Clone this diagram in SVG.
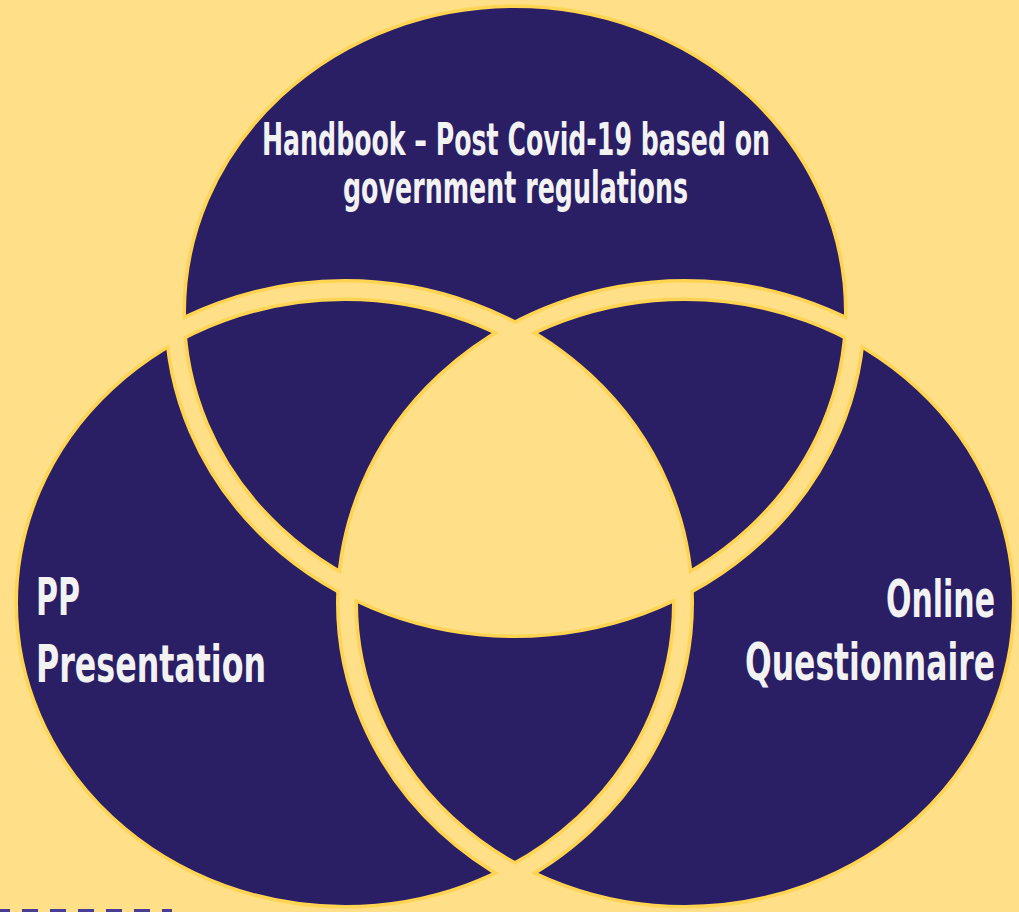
<svg xmlns="http://www.w3.org/2000/svg" xmlns:xlink="http://www.w3.org/1999/xlink" width="1019" height="912" viewBox="0 0 1019 912">
<style>
.fill{fill:#2a1e64}
.edge{fill:none;stroke:#ffd452;stroke-width:22}
.gap{fill:none;stroke:#ffdf87;stroke-width:15}
.lbl{font-family:"Liberation Sans Narrow","DejaVu Sans Condensed","Liberation Sans",sans-serif;font-weight:bold;fill:#f2f2f2}
</style>
<defs>
<ellipse id="eTop" cx="515" cy="312" rx="340" ry="315"/>
<ellipse id="eLeft" cx="345" cy="603" rx="338" ry="313"/>
<ellipse id="eRight" cx="685" cy="603" rx="338" ry="313"/>
<clipPath id="cUnion"><use href="#eTop"/><use href="#eLeft"/><use href="#eRight"/></clipPath>
<clipPath id="cL"><use href="#eLeft"/></clipPath>
<clipPath id="cR"><use href="#eRight"/></clipPath>
</defs>
<rect width="1019" height="912" fill="#ffdf87"/>
<g id="node-fills">
<use id="node-top-fill" href="#eTop" class="fill"/>
<use id="node-left-fill" href="#eLeft" class="fill"/>
<use id="node-right-fill" href="#eRight" class="fill"/>
</g>
<g id="node-edges" clip-path="url(#cUnion)">
<use href="#eTop" class="edge"/>
<use href="#eLeft" class="edge"/>
<use href="#eRight" class="edge"/>
</g>
<g id="node-center" clip-path="url(#cL)"><g clip-path="url(#cR)"><use href="#eTop" fill="#ffdf87"/></g></g>
<g id="node-gaps">
<use href="#eTop" class="gap"/>
<use href="#eLeft" class="gap"/>
<use href="#eRight" class="gap"/>
</g>
<g id="connectors"></g>
<g id="node-handbook">
<text class="lbl" x="516" y="155" font-size="44" text-anchor="middle" textLength="508" lengthAdjust="spacingAndGlyphs">Handbook – Post Covid-19 based on</text>
<text class="lbl" x="515.5" y="203" font-size="44" text-anchor="middle" textLength="345" lengthAdjust="spacingAndGlyphs">government regulations</text>
</g>
<g id="node-pp">
<text class="lbl" x="36" y="615" font-size="51" textLength="44" lengthAdjust="spacingAndGlyphs">PP</text>
<text class="lbl" x="36" y="682" font-size="51" textLength="230" lengthAdjust="spacingAndGlyphs">Presentation</text>
</g>
<g id="node-online">
<text class="lbl" x="886" y="617" font-size="51" textLength="109" lengthAdjust="spacingAndGlyphs">Online</text>
<text class="lbl" x="745" y="680" font-size="51" textLength="250" lengthAdjust="spacingAndGlyphs">Questionnaire</text>
</g>
<line x1="-6" y1="911" x2="172" y2="911" stroke="#4a3d98" stroke-width="4" stroke-dasharray="16 12"/>
</svg>
